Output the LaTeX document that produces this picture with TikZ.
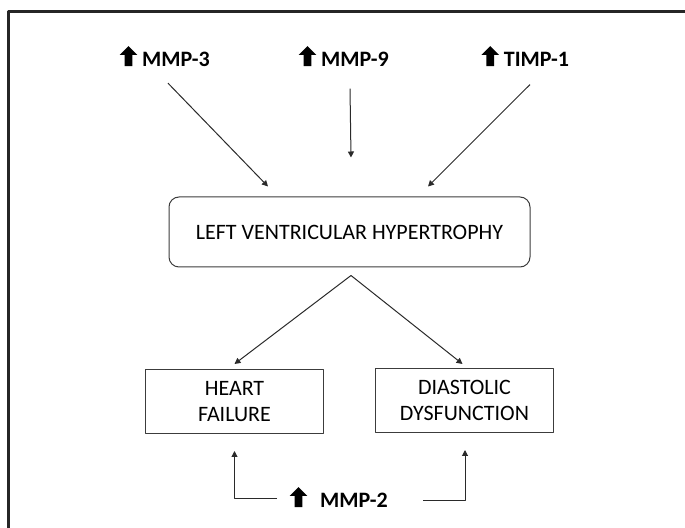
\documentclass[tikz,border=0pt]{standalone}
\usepackage{fontspec}
\setmainfont{Carlito}
\usetikzlibrary{arrows.meta,positioning,calc,shapes.arrows}
\definecolor{ink}{HTML}{2A2A2A}
\definecolor{boxline}{HTML}{3C3C3C}
\definecolor{framecol}{HTML}{262626}

\begin{document}
\begin{tikzpicture}[
  x=0.5pt, y=-0.5pt, line join=round,
  lbl/.style={font=\fontsize{11}{13}\selectfont\bfseries, inner sep=0pt, text=black},
  upglyph/.style={single arrow, shape border rotate=90, fill=black, draw=none,
                  inner sep=1.75pt, minimum height=10pt, single arrow head extend=2.5pt},
  lvhbox/.style={draw=boxline, line width=0.5pt, rounded corners=5pt,
                 minimum width=180.5pt, minimum height=35pt,
                 font=\fontsize{11}{13}\selectfont},
  outbox/.style={draw=boxline, line width=0.5pt, align=center,
                 minimum width=89pt, minimum height=32pt,
                 font=\fontsize{11}{13}\selectfont},
  conn/.style={-{Triangle[length=3pt,width=3pt]}, ink, line width=0.5pt}]

\useasboundingbox (0,0) rectangle (685,528);
\draw[framecol, line width=1.3pt] (8.7,11.5) rectangle (720,560);

% ================================================================ markers
\node[lbl] (t3) at (176,59.5) {MMP-3};
\node[upglyph, left=4.5pt of t3, yshift=0.75pt] (g3) {};
\node[lbl] (t9) at (355,59.5) {MMP-9};
\node[upglyph, left=4.5pt of t9, yshift=0.75pt] (g9) {};
\node[lbl] (tt) at (536.5,59.5) {TIMP-1};
\node[upglyph, left=4.5pt of tt, yshift=0.75pt] (gt) {};

% ================================================================ boxes
\node[lvhbox] (lvh) at (349.5,232) {LEFT VENTRICULAR HYPERTROPHY};
\node[outbox] (hf) at (234.5,401.5) {HEART\\FAILURE};
\node[outbox] (dd) at (464.5,400.5) {DIASTOLIC\\DYSFUNCTION};

\node[lbl] (t2) at (354,500.5) {MMP-2};
\node[upglyph, left=8.5pt of t2, yshift=0.75pt] (g2) {};

% ================================================================ arrows
\draw[conn] ($(t3.south)+(-8,16)$) -- ($(lvh.north)+(-81.5,-10)$);
\draw[conn] ($(t9.south)+(-5,21.5)$) -- ($(lvh.north)+(1.5,-39)$);
\draw[conn] ($(tt.south)+(-6.5,17.5)$) -- ($(lvh.north)+(78.5,-10)$);

\coordinate (fork) at ($(lvh.south)+(1.5,8)$);
\draw[conn] (fork) -- ($(hf.north)+(0,-5)$);
\draw[conn] (fork) -- ($(dd.north)+(-2,-4)$);

\draw[conn] ($(g2.west)+(-17,0)$) -| ($(hf.south)+(0,17)$);
\draw[conn] ($(t2.east)+(35,0)$) -| ($(dd.south)+(0.5,17)$);

\end{tikzpicture}
\end{document}
